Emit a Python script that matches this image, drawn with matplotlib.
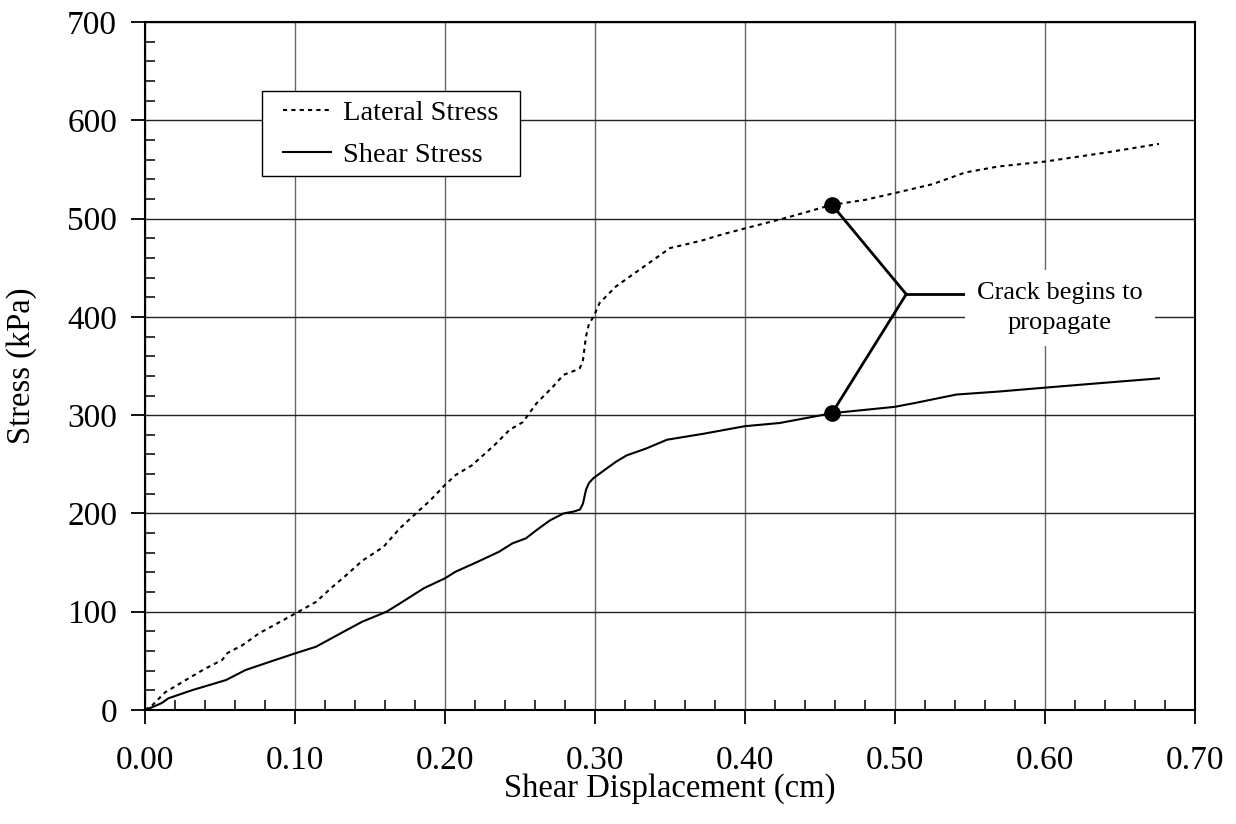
import matplotlib
matplotlib.use("Agg")
import matplotlib.pyplot as plt
from matplotlib.patches import Rectangle
from matplotlib.ticker import MultipleLocator, FormatStrFormatter

plt.rcParams['font.family'] = ['Liberation Serif', 'DejaVu Serif']

# lateral stress (dotted)
lateral_x = [0, 0.005, 0.0134, 0.02, 0.031, 0.04, 0.0515, 0.055, 0.065, 0.076, 0.088, 0.10,
             0.114, 0.124, 0.134, 0.145, 0.159, 0.170, 0.182, 0.19, 0.200, 0.207, 0.218, 0.234,
             0.243, 0.252, 0.261, 0.272, 0.279, 0.286, 0.290, 0.292, 0.294, 0.296, 0.299, 0.303,
             0.314, 0.326, 0.339, 0.350, 0.364, 0.372, 0.385, 0.40, 0.428, 0.458, 0.48, 0.50,
             0.525, 0.547, 0.569, 0.60, 0.64, 0.676]
lateral_y = [0, 5, 18, 24, 34, 42, 51, 58, 66, 78, 88, 98,
             110, 124, 137, 152, 166, 185, 202, 213, 229, 239, 249, 271,
             285, 293, 312, 329, 341, 345, 348, 356, 380, 393, 400, 414,
             431, 444, 458, 470, 475, 478, 484, 490, 501, 514, 519, 526,
             535, 547, 553, 558, 567, 576]

# shear stress (solid)
shear_x = [0, 0.005, 0.011, 0.0157, 0.031, 0.054, 0.067, 0.085, 0.10, 0.114, 0.134, 0.145,
           0.161, 0.170, 0.186, 0.200, 0.207, 0.222, 0.236, 0.245, 0.254, 0.261, 0.270, 0.279,
           0.286, 0.290, 0.292, 0.294, 0.296, 0.299, 0.308, 0.314, 0.321, 0.334, 0.348, 0.372,
           0.40, 0.423, 0.458, 0.50, 0.514, 0.541, 0.569, 0.60, 0.64, 0.676]
shear_y = [0, 3, 7, 12, 20, 30.5, 40.7, 50, 57.6, 64.4, 81, 90,
           100, 108.5, 124, 134, 140.7, 151, 161, 169.6, 174.7, 183, 193, 200,
           202, 204, 210, 224, 231, 236, 246, 252.6, 259, 266, 275, 281,
           288.8, 292, 302, 308.5, 312.6, 321, 324, 328, 333, 337.4]

# crack points
crack_x = [0.458, 0.458]
crack_y = [514, 302]
crack_label = "Crack begins to\npropagate"

fig = plt.figure(figsize=(12.36, 8.24), dpi=100)
ax = fig.add_axes([0.1173, 0.1383, 0.8495, 0.835])

ax.plot(lateral_x, lateral_y, color='black', lw=1.5, ls=(0, (2.0, 2.0)), label='Lateral Stress', zorder=3)
ax.plot(shear_x, shear_y, color='black', lw=1.5, label='Shear Stress', zorder=3)

# callout
jx, jy = 0.5075, 423
for cx, cy in zip(crack_x, crack_y):
    ax.plot([cx, jx], [cy, jy], color='black', lw=2, zorder=4)
ax.plot([jx, 0.546], [jy, jy], color='black', lw=2, zorder=4)
ax.plot(crack_x, crack_y, 'o', color='black', ms=11, zorder=5)
ax.text(0.61, 409, crack_label, ha='center', va='center', fontsize=19, zorder=6,
        linespacing=1.45, bbox=dict(facecolor='white', edgecolor='none', pad=9))

ax.set_xlim(0, 0.70)
ax.set_ylim(0, 700)
ax.xaxis.set_major_locator(MultipleLocator(0.1))
ax.xaxis.set_minor_locator(MultipleLocator(0.02))
ax.yaxis.set_major_locator(MultipleLocator(100))
ax.yaxis.set_minor_locator(MultipleLocator(20))
ax.xaxis.set_major_formatter(FormatStrFormatter('%.2f'))

ax.tick_params(which='major', direction='out', length=10, width=1.3, labelsize=24)
ax.tick_params(axis='x', which='major', pad=15.5)
ax.tick_params(axis='y', which='major', pad=10)
ax.tick_params(which='minor', direction='in', length=7, width=1.1)

ax.grid(True, axis='x', which='major', color='#666666', lw=1, zorder=1)
ax.grid(True, axis='y', which='major', color='#222222', lw=1, zorder=1)
for s in ax.spines.values():
    s.set_linewidth(1.5)

ax.set_xlabel('Shear Displacement (cm)', fontsize=23.5, labelpad=-2)
ax.set_ylabel('Stress (kPa)', fontsize=23.5, labelpad=22)

# legend box drawn separately so the side padding can differ from the top padding
ax.add_patch(Rectangle((0.1114, 0.776), 0.2457, 0.1235, transform=ax.transAxes,
                       facecolor='white', edgecolor='black', lw=1.0, zorder=5))
leg = ax.legend(loc='center left', bbox_to_anchor=(0.1314, 0.837), borderaxespad=0,
                borderpad=0, fontsize=20.5, frameon=False, handlelength=1.7,
                handletextpad=0.4, labelspacing=0.56)
leg.set_zorder(6)

fig.savefig('out.png', dpi=100)
